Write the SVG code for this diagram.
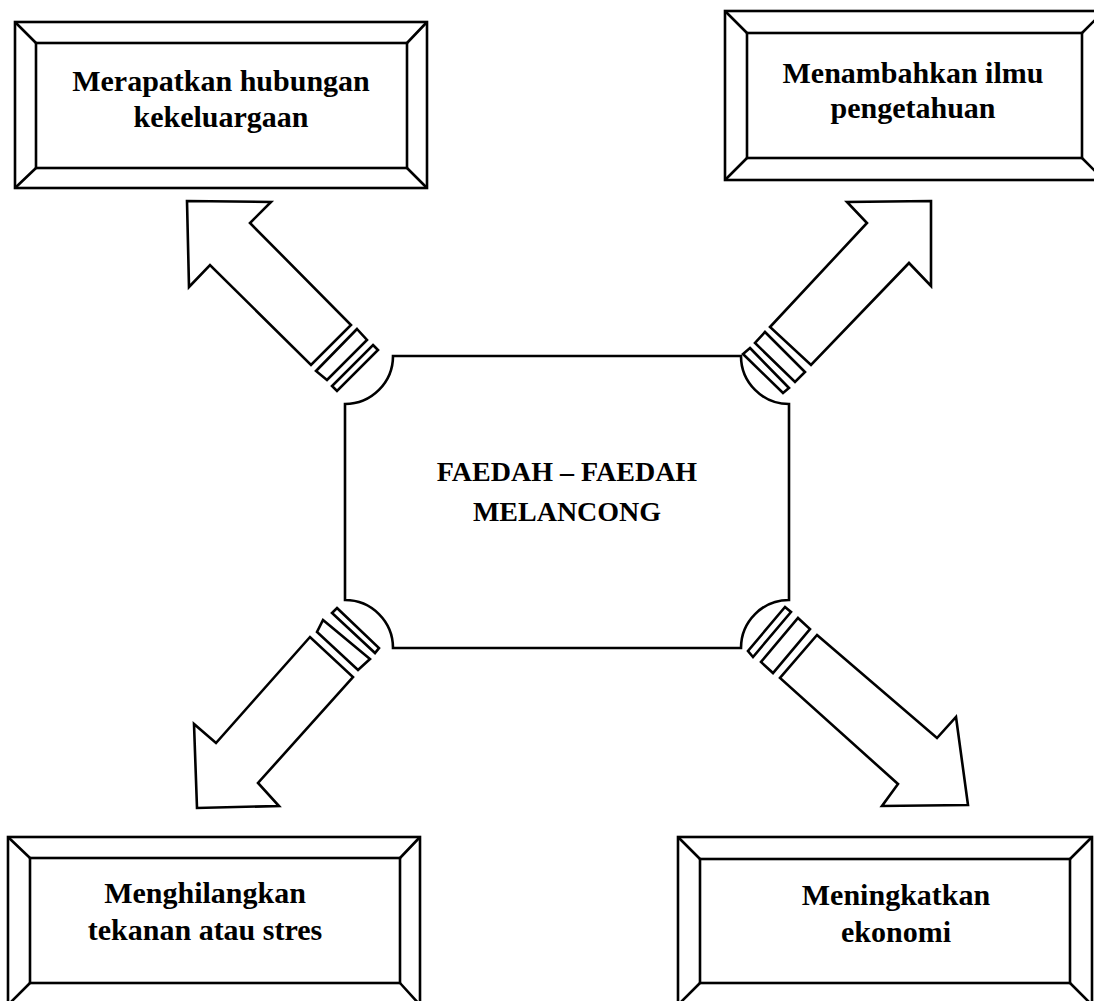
<svg xmlns="http://www.w3.org/2000/svg" width="1094" height="1001" viewBox="0 0 1094 1001">
<style>
.bg{fill:#ffffff}
.ln{fill:none;stroke:#000;stroke-width:2.6;stroke-linejoin:miter}
.sh{fill:#fff;stroke:#000;stroke-width:2.6;stroke-linejoin:miter}
.tx{font-family:"Liberation Serif","Times New Roman",serif;font-weight:bold;font-size:30px;fill:#000;text-anchor:middle}
.ct{font-family:"Liberation Serif","Times New Roman",serif;font-weight:bold;font-size:28px;fill:#000;text-anchor:middle}
</style>
<rect class="bg" x="0" y="0" width="1094" height="1001"/>

<g id="node-tl">
<rect class="ln" x="15" y="22" width="412" height="166"/>
<rect class="ln" x="36" y="43" width="371" height="125"/>
<path class="ln" d="M15,22 L36,43 M427,22 L407,43 M15,188 L36,168 M427,188 L407,168"/>
<text class="tx" x="221" y="91">Merapatkan hubungan</text>
<text class="tx" x="221" y="127">kekeluargaan</text>
</g>

<g id="node-tr">
<rect class="ln" x="725" y="11" width="379" height="169"/>
<rect class="ln" x="747" y="33" width="335" height="125"/>
<path class="ln" d="M725,11 L747,33 M1104,11 L1082,33 M725,180 L747,158 M1104,180 L1082,158"/>
<text class="tx" x="913" y="83">Menambahkan ilmu</text>
<text class="tx" x="913" y="118">pengetahuan</text>
</g>

<g id="node-bl">
<rect class="ln" x="8" y="837" width="412" height="170"/>
<rect class="ln" x="30" y="858" width="370" height="125"/>
<path class="ln" d="M8,837 L30,858 M420,837 L400,858 M8,1005 L30,983 M420,1005 L400,983"/>
<text class="tx" x="205" y="903">Menghilangkan</text>
<text class="tx" x="205" y="940">tekanan atau stres</text>
</g>

<g id="node-br">
<rect class="ln" x="678" y="837" width="414" height="170"/>
<rect class="ln" x="700" y="859" width="370" height="124"/>
<path class="ln" d="M678,837 L700,859 M1092,837 L1070,859 M678,1005 L700,983 M1092,1005 L1070,983"/>
<text class="tx" x="896" y="905">Meningkatkan</text>
<text class="tx" x="896" y="942">ekonomi</text>
</g>

<g id="node-center">
<path class="ln" d="M393,356 L741,356 A48,48 0 0 0 789,404 L789,600 A48,48 0 0 0 741,648 L393,648 A48,48 0 0 0 345,600 L345,404 A48,48 0 0 0 393,356 Z"/>
<text class="ct" x="567" y="481">FAEDAH – FAEDAH</text>
<text class="ct" x="567" y="521">MELANCONG</text>
</g>

<g id="connectors">
<polygon class="sh" points="187,201 271,202 250,223 351,325 311,365 210,265 189,287"/>
<polygon class="sh" points="357,329 367,340 327,380 316,371"/>
<polygon class="sh" points="373,345 378,350 337,391 332,386"/>

<polygon class="sh" points="931,201 847,202 867,223 770,327 811,365 909,263 931,286"/>
<polygon class="sh" points="765,332 805,372 795,382 755,343"/>
<polygon class="sh" points="750,348 789,388 783,393 743,354"/>

<polygon class="sh" points="310,637 216,743 194,724 197,808 279,806 258,783 353,677"/>
<polygon class="sh" points="323,620 370,659 358,670 317,632"/>
<polygon class="sh" points="337,608 379,648 375,653 332,613"/>

<polygon class="sh" points="817,635 937,738 956,717 968,805 882,806 898,784 780,678"/>
<polygon class="sh" points="798,618 810,629 773,673 761,662"/>
<polygon class="sh" points="785,607 791,612 753,657 748,651"/>
</g>
</svg>
